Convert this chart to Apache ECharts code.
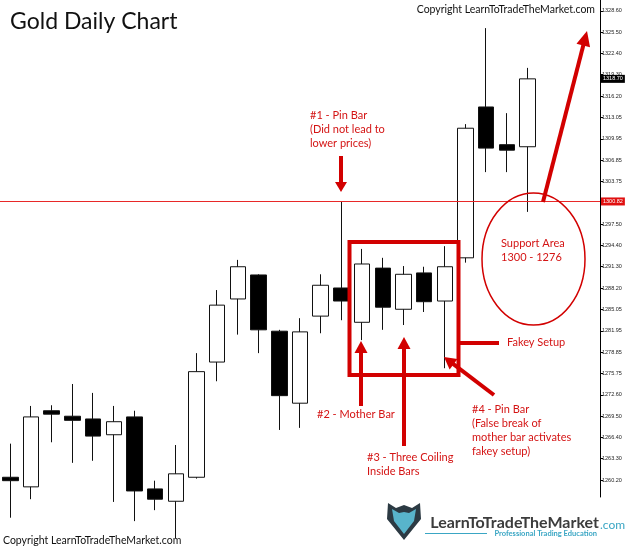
<!DOCTYPE html>
<html>
<head>
<meta charset="utf-8">
<script src="https://cdn.jsdelivr.net/npm/echarts@6/dist/echarts.min.js"></script>
<style>
  html, body { margin: 0; padding: 0; background: #fff; }
  #chart { width: 625px; height: 549px; }
</style>
</head>
<body>
<div id="chart"></div>
<script>
// daily bars, oldest first
var days = ['1', '2', '3', '4', '5', '6', '7', '8', '9', '10', '11', '12', '13',
  '14', '15', '16', '17', '18', '19', '20', '21', '22', '23', '24', '25', '26']
// empty slots between the last bar and the price scale
var padSlots = ['', '', '']
// [open, close, low, high]
var ohlc = [
  [1260.6, 1260.1, 1254.7, 1265.5],
  [1259.2, 1269.4, 1257.4, 1271.0],
  [1270.3, 1269.8, 1265.7, 1271.1],
  [1269.5, 1268.9, 1262.7, 1274.2],
  [1269.1, 1266.6, 1263.0, 1272.9],
  [1266.8, 1268.7, 1257.0, 1271.0],
  [1269.4, 1258.6, 1254.2, 1270.3],
  [1258.9, 1257.4, 1255.8, 1260.1],
  [1257.1, 1261.1, 1251.7, 1265.3],
  [1260.6, 1276.0, 1260.4, 1278.7],
  [1277.4, 1285.7, 1274.6, 1287.9],
  [1286.6, 1291.3, 1281.4, 1292.3],
  [1290.1, 1282.1, 1278.7, 1290.2],
  [1281.9, 1272.5, 1267.5, 1282.1],
  [1271.4, 1281.8, 1267.8, 1283.8],
  [1284.1, 1288.6, 1281.6, 1290.2],
  [1288.2, 1286.3, 1283.5, 1300.8],
  [1283.2, 1291.7, 1280.6, 1293.9],
  [1291.1, 1285.4, 1282.1, 1292.6],
  [1285.1, 1290.2, 1282.8, 1291.4],
  [1290.4, 1286.2, 1284.7, 1291.3],
  [1286.3, 1291.3, 1276.5, 1294.3],
  [1292.6, 1311.5, 1291.9, 1312.1],
  [1314.6, 1308.6, 1305.1, 1326.1],
  [1309.1, 1308.3, 1305.1, 1313.7],
  [1308.8, 1318.7, 1299.3, 1320.3]
]
var priceTicks = [1328.60, 1325.50, 1322.40, 1319.30, 1316.20, 1313.05, 1309.95,
  1306.85, 1303.75, 1300.65, 1297.50, 1294.40, 1291.30, 1288.20, 1285.05, 1281.95,
  1278.85, 1275.75, 1272.60, 1269.50, 1266.40, 1263.30, 1260.20]
var supportLevel = 1300.82
var lastPrice = 1318.70

var RED = '#d20000'
var TEXT_RED = '#d41414'
var TEAL = '#3aa6c4'

function arrow(x1, y1, x2, y2, head, half, width) {
  var dx = x2 - x1
  var dy = y2 - y1
  var len = Math.sqrt(dx * dx + dy * dy)
  var ux = dx / len
  var uy = dy / len
  var bx = x2 - ux * head
  var by = y2 - uy * head
  return [
    {
      type: 'line', z: 20,
      shape: { x1: x1, y1: y1, x2: bx + ux, y2: by + uy },
      style: { stroke: RED, lineWidth: width || 4 }
    },
    {
      type: 'polygon', z: 20,
      shape: { points: [[x2, y2], [bx - uy * half, by + ux * half], [bx + uy * half, by - ux * half]] },
      style: { fill: RED }
    }
  ]
}

function note(lines, x, y, size, color) {
  return lines.map(function(t, i) {
    return {
      type: 'text', z: 20,
      style: {
        text: t, x: x, y: y + i * 14,
        font: (size || 11) + 'px Lato',
        fill: color || TEXT_RED,
        verticalAlign: 'middle'
      }
    }
  })
}

var annotations = []
  // title and copyright
  .concat([
    { type: 'text', z: 20, style: { text: 'Gold Daily Chart', x: 10, y: 22, font: '23px Lato', fill: '#111', verticalAlign: 'middle' } },
    { type: 'text', z: 20, style: { text: 'Copyright LearnToTradeTheMarket.com', x: 595, y: 10, font: '10.5px Lato', fill: '#111', align: 'right', verticalAlign: 'middle' } },
    { type: 'text', z: 20, style: { text: 'Copyright LearnToTradeTheMarket.com', x: 3, y: 541, font: '10.5px Lato', fill: '#111', verticalAlign: 'middle' } }
  ])
  // #1 pin bar
  .concat(note(['#1 - Pin Bar', '(Did not lead to', 'lower prices)'], 310, 115))
  .concat(arrow(341, 156, 341, 192, 10, 6))
  // inside-bar box
  .concat([
    { type: 'rect', z: 20, shape: { x: 349.5, y: 242, width: 109, height: 133 }, style: { fill: 'none', stroke: RED, lineWidth: 4 } },
    { type: 'line', z: 20, shape: { x1: 459, y1: 343, x2: 499, y2: 343 }, style: { stroke: RED, lineWidth: 4 } }
  ])
  .concat(note(['Fakey Setup'], 507, 342))
  .concat(arrow(361, 406, 361, 341, 12, 6.5))
  .concat(note(['#2 - Mother Bar'], 317, 414))
  .concat(arrow(404, 446, 404, 337, 12, 6.5))
  .concat(note(['#3 - Three Coiling', 'Inside Bars'], 367, 457))
  .concat(arrow(494, 395, 444, 357, 12, 6.5))
  .concat(note(['#4 - Pin Bar', '(False break of', 'mother bar activates', 'fakey setup)'], 472, 409))
  // support area and move up
  .concat([
    { type: 'ellipse', z: 20, shape: { cx: 533.5, cy: 259, rx: 51.5, ry: 66 }, style: { fill: 'none', stroke: RED, lineWidth: 1.5 } }
  ])
  .concat(note(['Support Area', '1300 - 1276'], 501, 243))
  .concat(arrow(543, 202, 587, 31, 15, 7))
  // logo
  .concat([
    { type: 'polygon', z: 20, shape: { points: [[388, 503], [396, 508], [404, 505], [412, 508], [420, 503], [421, 519], [404, 540], [387, 519]] }, style: { fill: '#2c3a43' } },
    { type: 'polygon', z: 20, shape: { points: [[392, 509], [399, 513], [404, 512], [409, 513], [416, 509], [414, 521], [404, 534], [394, 521]] }, style: { fill: '#58b4cb' } },
    { type: 'text', z: 20, style: { text: 'LearnToTradeTheMarket', x: 599, y: 523, font: 'bold 16px Lato', fill: '#3c3c3c', align: 'right', verticalAlign: 'middle' } },
    { type: 'text', z: 20, style: { text: '.com', x: 600, y: 525, font: '12px Lato', fill: TEAL, verticalAlign: 'middle' } },
    { type: 'text', z: 20, style: { text: 'Professional Trading Education', x: 597, y: 534, font: 'bold 7.5px Lato', fill: TEAL, align: 'right', verticalAlign: 'middle' } },
    { type: 'line', z: 20, shape: { x1: 425, y1: 533.5, x2: 487, y2: 533.5 }, style: { stroke: TEAL, lineWidth: 1 } }
  ])

var priceTag = {
  show: true, position: 'end', distance: 1, color: '#fff', fontSize: 5.5,
  fontFamily: 'Liberation Sans', padding: [1, 2]
}

var chart = echarts.init(document.getElementById('chart'))
chart.setOption({
  animation: false,
  backgroundColor: '#fff',
  grid: {
    left: 0,
    right: 25,
    top: 0,
    bottom: 52
  },
  xAxis: {
    type: 'category',
    data: days.concat(padSlots),
    boundaryGap: true,
    axisLine: { show: false },
    axisTick: { show: false },
    axisLabel: { show: false },
    splitLine: { show: false }
  },
  yAxis: {
    type: 'value',
    position: 'right',
    scale: true,
    min: 1257.72,
    max: 1330.2,
    axisLine: { show: true, lineStyle: { color: '#000', width: 1 } },
    axisTick: { show: true, length: 3, customValues: priceTicks, lineStyle: { color: '#000' } },
    axisLabel: {
      customValues: priceTicks,
      margin: 2,
      fontSize: 5.5,
      fontFamily: 'Liberation Sans',
      color: '#222',
      formatter: function(v) { return v.toFixed(2) }
    },
    splitLine: { show: false }
  },
  graphic: { elements: annotations },
  series: [
    {
      type: 'candlestick',
      data: ohlc,
      barWidth: 16,
      clip: false,
      itemStyle: {
        color: '#fff',
        color0: '#000',
        borderColor: '#111',
        borderColor0: '#111',
        borderWidth: 1
      }
    },
    {
      // price tags on the scale
      type: 'line',
      data: [],
      markLine: {
        silent: true,
        symbol: 'none',
        data: [
          {
            yAxis: supportLevel,
            lineStyle: { color: 'rgba(0,0,0,0)', width: 1 },
            label: Object.assign({}, priceTag, { formatter: supportLevel.toFixed(2), backgroundColor: '#e01010' })
          },
          {
            yAxis: lastPrice,
            lineStyle: { color: 'rgba(0,0,0,0)', width: 1 },
            label: Object.assign({}, priceTag, { formatter: lastPrice.toFixed(2), backgroundColor: '#000' })
          }
        ]
      }
    }
  ]
})

// support level line, placed through the price scale
var supportY = Math.round(chart.convertToPixel({ yAxisIndex: 0 }, supportLevel)) + 0.5
chart.setOption({
  graphic: {
    elements: annotations.concat([{
      type: 'line', z: 5,
      shape: { x1: 0, y1: supportY, x2: 600, y2: supportY },
      style: { stroke: 'rgb(232,40,40)', lineWidth: 1 }
    }])
  }
})
</script>
</body>
</html>
